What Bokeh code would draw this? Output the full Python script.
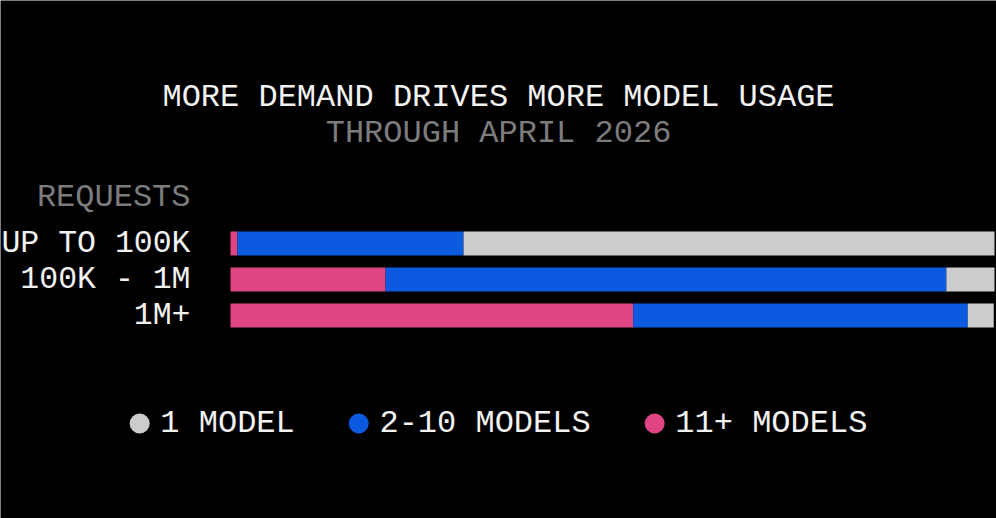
from bokeh.plotting import figure
from bokeh.models import Range1d, ColumnDataSource
from bokeh.core.properties import value
from bokeh.embed import file_html
from bokeh.resources import INLINE

# share of customers (%) by number of models used, per request volume
requests = ["UP TO 100K", "100K - 1M", "1M+"]
eleven_plus = [0.9, 20.3, 52.7]
two_to_ten = [29.6, 73.4, 43.8]
one_model = [69.5, 6.3, 3.4]

legend_labels = ["1 MODEL", "2-10 MODELS", "11+ MODELS"]
legend_colors = ["#cccccc", "#0b5ae0", "#e04583"]

title = "MORE DEMAND DRIVES MORE MODEL USAGE"
subtitle = "THROUGH APRIL 2026"
axis_title = "REQUESTS"

FONT = value("Liberation Mono")
W, H = 996, 518
BAR_L, BAR_R = 230, 994      # pixel span of 0..100 %
ROW0, ROW_H = 243, 36        # centre of first bar, row pitch
CHAR_W = 19.2                # advance of 32px mono font


def px_x(fx):
    return (fx - BAR_L) * 100.0 / (BAR_R - BAR_L)


def px_y(fy):
    return (fy - ROW0) / ROW_H


p = figure(width=W, height=H, output_backend="svg", toolbar_location=None,
           x_range=Range1d(px_x(0), px_x(W)), y_range=Range1d(px_y(H), px_y(0)),
           x_axis_type=None, y_axis_type=None, min_border=0,
           background_fill_color="black", border_fill_color="black",
           outline_line_color=None)
p.grid.visible = False

src = ColumnDataSource(dict(row=list(range(len(requests))), label=requests,
                            eleven=eleven_plus, two=two_to_ten, one=one_model))
p.hbar_stack(["eleven", "two", "one"], y="row", height=24 / ROW_H, source=src,
             fill_color=[legend_colors[2], legend_colors[1], legend_colors[0]],
             line_color=None)

# category labels
p.text(x=px_x(190), y="row", text="label", source=src, text_align="right",
       text_baseline="middle", text_color="#f2f2f2", text_font=FONT,
       text_font_size="31.5px")

p.text(x=[px_x(W / 2)], y=[px_y(97)], text=[title], text_align="center",
       text_baseline="middle", text_color="#f2f2f2", text_font=FONT,
       text_font_size="32px")
p.text(x=[px_x(W / 2)], y=[px_y(133)], text=[subtitle], text_align="center",
       text_baseline="middle", text_color="#7c7c7c", text_font=FONT,
       text_font_size="32px")
p.text(x=[px_x(190)], y=[px_y(197)], text=[axis_title], text_align="right",
       text_baseline="middle", text_color="#7c7c7c", text_font=FONT,
       text_font_size="32px")

# legend: dot, label, gap
dot_r, dot_gap, item_gap = 10, 20.7, 64
widths = [dot_gap + len(t) * CHAR_W for t in legend_labels]
total = dot_r + sum(widths) + item_gap * (len(widths) - 1)
cx = W / 2 - total / 2 + dot_r
dot_x, text_x = [], []
for w in widths:
    dot_x.append(px_x(cx))
    text_x.append(px_x(cx + dot_gap))
    cx += w + item_gap
leg_y = [px_y(423)] * len(legend_labels)
p.scatter(x=dot_x, y=leg_y, size=2 * dot_r, color=legend_colors, line_color=None)
p.text(x=text_x, y=leg_y, text=legend_labels, text_align="left",
       text_baseline="middle", text_color="#f2f2f2", text_font=FONT,
       text_font_size="32px")

open("out.html", "w").write(file_html(p, INLINE))
